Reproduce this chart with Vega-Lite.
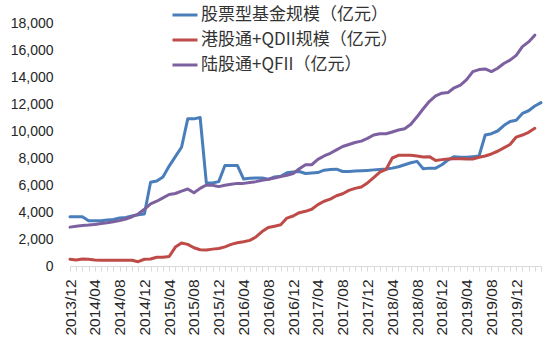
{
"$schema": "https://vega.github.io/schema/vega-lite/v6.json",
"width": 471, "height": 243,
"autosize": {"type": "none"},
"padding": {"left": 70, "top": 23, "right": 9, "bottom": 96},
"background": "white",
"config": {"view": {"stroke": null}},
"data": {"values": [
{"m":"2013/12","股票型基金规模（亿元）":3650,"港股通+QDII规模（亿元）":500,"陆股通+QFII（亿元）":2880},
{"m":"2014/01","股票型基金规模（亿元）":3650,"港股通+QDII规模（亿元）":450,"陆股通+QFII（亿元）":2950},
{"m":"2014/02","股票型基金规模（亿元）":3650,"港股通+QDII规模（亿元）":520,"陆股通+QFII（亿元）":3000},
{"m":"2014/03","股票型基金规模（亿元）":3350,"港股通+QDII规模（亿元）":500,"陆股通+QFII（亿元）":3030},
{"m":"2014/04","股票型基金规模（亿元）":3350,"港股通+QDII规模（亿元）":450,"陆股通+QFII（亿元）":3080},
{"m":"2014/05","股票型基金规模（亿元）":3350,"港股通+QDII规模（亿元）":430,"陆股通+QFII（亿元）":3140},
{"m":"2014/06","股票型基金规模（亿元）":3400,"港股通+QDII规模（亿元）":430,"陆股通+QFII（亿元）":3200},
{"m":"2014/07","股票型基金规模（亿元）":3450,"港股通+QDII规模（亿元）":430,"陆股通+QFII（亿元）":3280},
{"m":"2014/08","股票型基金规模（亿元）":3550,"港股通+QDII规模（亿元）":430,"陆股通+QFII（亿元）":3360},
{"m":"2014/09","股票型基金规模（亿元）":3600,"港股通+QDII规模（亿元）":430,"陆股通+QFII（亿元）":3480},
{"m":"2014/10","股票型基金规模（亿元）":3700,"港股通+QDII规模（亿元）":430,"陆股通+QFII（亿元）":3650},
{"m":"2014/11","股票型基金规模（亿元）":3800,"港股通+QDII规模（亿元）":320,"陆股通+QFII（亿元）":3850},
{"m":"2014/12","股票型基金规模（亿元）":3850,"港股通+QDII规模（亿元）":500,"陆股通+QFII（亿元）":4200},
{"m":"2015/01","股票型基金规模（亿元）":6200,"港股通+QDII规模（亿元）":520,"陆股通+QFII（亿元）":4600},
{"m":"2015/02","股票型基金规模（亿元）":6300,"港股通+QDII规模（亿元）":650,"陆股通+QFII（亿元）":4800},
{"m":"2015/03","股票型基金规模（亿元）":6600,"港股通+QDII规模（亿元）":650,"陆股通+QFII（亿元）":5050},
{"m":"2015/04","股票型基金规模（亿元）":7400,"港股通+QDII规模（亿元）":700,"陆股通+QFII（亿元）":5300},
{"m":"2015/05","股票型基金规模（亿元）":8100,"港股通+QDII规模（亿元）":1400,"陆股通+QFII（亿元）":5370},
{"m":"2015/06","股票型基金规模（亿元）":8800,"港股通+QDII规模（亿元）":1700,"陆股通+QFII（亿元）":5550},
{"m":"2015/07","股票型基金规模（亿元）":10900,"港股通+QDII规模（亿元）":1600,"陆股通+QFII（亿元）":5700},
{"m":"2015/08","股票型基金规模（亿元）":10900,"港股通+QDII规模（亿元）":1350,"陆股通+QFII（亿元）":5420},
{"m":"2015/09","股票型基金规模（亿元）":11000,"港股通+QDII规模（亿元）":1200,"陆股通+QFII（亿元）":5750},
{"m":"2015/10","股票型基金规模（亿元）":6150,"港股通+QDII规模（亿元）":1180,"陆股通+QFII（亿元）":6000},
{"m":"2015/11","股票型基金规模（亿元）":6150,"港股通+QDII规模（亿元）":1250,"陆股通+QFII（亿元）":5980},
{"m":"2015/12","股票型基金规模（亿元）":6250,"港股通+QDII规模（亿元）":1300,"陆股通+QFII（亿元）":5880},
{"m":"2016/01","股票型基金规模（亿元）":7450,"港股通+QDII规模（亿元）":1420,"陆股通+QFII（亿元）":5980},
{"m":"2016/02","股票型基金规模（亿元）":7450,"港股通+QDII规模（亿元）":1600,"陆股通+QFII（亿元）":6050},
{"m":"2016/03","股票型基金规模（亿元）":7450,"港股通+QDII规模（亿元）":1720,"陆股通+QFII（亿元）":6120},
{"m":"2016/04","股票型基金规模（亿元）":6450,"港股通+QDII规模（亿元）":1800,"陆股通+QFII（亿元）":6120},
{"m":"2016/05","股票型基金规模（亿元）":6500,"港股通+QDII规模（亿元）":1900,"陆股通+QFII（亿元）":6180},
{"m":"2016/06","股票型基金规模（亿元）":6520,"港股通+QDII规模（亿元）":2150,"陆股通+QFII（亿元）":6250},
{"m":"2016/07","股票型基金规模（亿元）":6520,"港股通+QDII规模（亿元）":2550,"陆股通+QFII（亿元）":6350},
{"m":"2016/08","股票型基金规模（亿元）":6420,"港股通+QDII规模（亿元）":2850,"陆股通+QFII（亿元）":6420},
{"m":"2016/09","股票型基金规模（亿元）":6600,"港股通+QDII规模（亿元）":2950,"陆股通+QFII（亿元）":6520},
{"m":"2016/10","股票型基金规模（亿元）":6650,"港股通+QDII规模（亿元）":3050,"陆股通+QFII（亿元）":6620},
{"m":"2016/11","股票型基金规模（亿元）":6900,"港股通+QDII规模（亿元）":3550,"陆股通+QFII（亿元）":6720},
{"m":"2016/12","股票型基金规模（亿元）":6970,"港股通+QDII规模（亿元）":3700,"陆股通+QFII（亿元）":6850},
{"m":"2017/01","股票型基金规模（亿元）":7000,"港股通+QDII规模（亿元）":3950,"陆股通+QFII（亿元）":7200},
{"m":"2017/02","股票型基金规模（亿元）":6850,"港股通+QDII规模（亿元）":4050,"陆股通+QFII（亿元）":7500},
{"m":"2017/03","股票型基金规模（亿元）":6880,"港股通+QDII规模（亿元）":4200,"陆股通+QFII（亿元）":7500},
{"m":"2017/04","股票型基金规模（亿元）":6920,"港股通+QDII规模（亿元）":4550,"陆股通+QFII（亿元）":7900},
{"m":"2017/05","股票型基金规模（亿元）":7100,"港股通+QDII规模（亿元）":4800,"陆股通+QFII（亿元）":8150},
{"m":"2017/06","股票型基金规模（亿元）":7150,"港股通+QDII规模（亿元）":4950,"陆股通+QFII（亿元）":8350},
{"m":"2017/07","股票型基金规模（亿元）":7170,"港股通+QDII规模（亿元）":5200,"陆股通+QFII（亿元）":8600},
{"m":"2017/08","股票型基金规模（亿元）":7000,"港股通+QDII规模（亿元）":5350,"陆股通+QFII（亿元）":8850},
{"m":"2017/09","股票型基金规模（亿元）":7000,"港股通+QDII规模（亿元）":5600,"陆股通+QFII（亿元）":9000},
{"m":"2017/10","股票型基金规模（亿元）":7030,"港股通+QDII规模（亿元）":5750,"陆股通+QFII（亿元）":9150},
{"m":"2017/11","股票型基金规模（亿元）":7050,"港股通+QDII规模（亿元）":5850,"陆股通+QFII（亿元）":9250},
{"m":"2017/12","股票型基金规模（亿元）":7080,"港股通+QDII规模（亿元）":6150,"陆股通+QFII（亿元）":9450},
{"m":"2018/01","股票型基金规模（亿元）":7120,"港股通+QDII规模（亿元）":6550,"陆股通+QFII（亿元）":9700},
{"m":"2018/02","股票型基金规模（亿元）":7150,"港股通+QDII规模（亿元）":6950,"陆股通+QFII（亿元）":9800},
{"m":"2018/03","股票型基金规模（亿元）":7180,"港股通+QDII规模（亿元）":7150,"陆股通+QFII（亿元）":9800},
{"m":"2018/04","股票型基金规模（亿元）":7250,"港股通+QDII规模（亿元）":8000,"陆股通+QFII（亿元）":9930},
{"m":"2018/05","股票型基金规模（亿元）":7350,"港股通+QDII规模（亿元）":8200,"陆股通+QFII（亿元）":10070},
{"m":"2018/06","股票型基金规模（亿元）":7500,"港股通+QDII规模（亿元）":8200,"陆股通+QFII（亿元）":10170},
{"m":"2018/07","股票型基金规模（亿元）":7650,"港股通+QDII规模（亿元）":8200,"陆股通+QFII（亿元）":10500},
{"m":"2018/08","股票型基金规模（亿元）":7750,"港股通+QDII规模（亿元）":8150,"陆股通+QFII（亿元）":11050},
{"m":"2018/09","股票型基金规模（亿元）":7200,"港股通+QDII规模（亿元）":8070,"陆股通+QFII（亿元）":11650},
{"m":"2018/10","股票型基金规模（亿元）":7250,"港股通+QDII规模（亿元）":8100,"陆股通+QFII（亿元）":12200},
{"m":"2018/11","股票型基金规模（亿元）":7250,"港股通+QDII规模（亿元）":7820,"陆股通+QFII（亿元）":12600},
{"m":"2018/12","股票型基金规模（亿元）":7500,"港股通+QDII规模（亿元）":7880,"陆股通+QFII（亿元）":12800},
{"m":"2019/01","股票型基金规模（亿元）":7850,"港股通+QDII规模（亿元）":7930,"陆股通+QFII（亿元）":12850},
{"m":"2019/02","股票型基金规模（亿元）":8100,"港股通+QDII规模（亿元）":7950,"陆股通+QFII（亿元）":13200},
{"m":"2019/03","股票型基金规模（亿元）":8050,"港股通+QDII规模（亿元）":7940,"陆股通+QFII（亿元）":13400},
{"m":"2019/04","股票型基金规模（亿元）":8050,"港股通+QDII规模（亿元）":7930,"陆股通+QFII（亿元）":13800},
{"m":"2019/05","股票型基金规模（亿元）":8100,"港股通+QDII规模（亿元）":7930,"陆股通+QFII（亿元）":14400},
{"m":"2019/06","股票型基金规模（亿元）":8150,"港股通+QDII规模（亿元）":8050,"陆股通+QFII（亿元）":14550},
{"m":"2019/07","股票型基金规模（亿元）":9700,"港股通+QDII规模（亿元）":8150,"陆股通+QFII（亿元）":14600},
{"m":"2019/08","股票型基金规模（亿元）":9800,"港股通+QDII规模（亿元）":8300,"陆股通+QFII（亿元）":14400},
{"m":"2019/09","股票型基金规模（亿元）":10000,"港股通+QDII规模（亿元）":8500,"陆股通+QFII（亿元）":14650},
{"m":"2019/10","股票型基金规模（亿元）":10400,"港股通+QDII规模（亿元）":8750,"陆股通+QFII（亿元）":15000},
{"m":"2019/11","股票型基金规模（亿元）":10700,"港股通+QDII规模（亿元）":9000,"陆股通+QFII（亿元）":15250},
{"m":"2019/12","股票型基金规模（亿元）":10800,"港股通+QDII规模（亿元）":9550,"陆股通+QFII（亿元）":15600},
{"m":"2020/01","股票型基金规模（亿元）":11300,"港股通+QDII规模（亿元）":9700,"陆股通+QFII（亿元）":16250},
{"m":"2020/02","股票型基金规模（亿元）":11500,"港股通+QDII规模（亿元）":9900,"陆股通+QFII（亿元）":16600},
{"m":"2020/03","股票型基金规模（亿元）":11850,"港股通+QDII规模（亿元）":10200,"陆股通+QFII（亿元）":17100},
{"m":"2020/04","股票型基金规模（亿元）":12100,"港股通+QDII规模（亿元）":null,"陆股通+QFII（亿元）":null}
]},
"transform": [{"fold": ["股票型基金规模（亿元）", "港股通+QDII规模（亿元）", "陆股通+QFII（亿元）"], "as": ["k", "v"]}],
"mark": {"type": "line", "strokeWidth": 3, "strokeJoin": "round", "strokeCap": "round"},
"encoding": {
  "x": {"field": "m", "type": "ordinal", "sort": null, "scale": {"type": "point", "padding": 0},
        "axis": {"title": null, "labelAngle": -90, "labelPadding": 8, "tickSize": 5, "domainColor": "#d9d9d9", "tickColor": "#d9d9d9",
                 "labelFont": "Liberation Sans", "labelFontSize": 15.5, "labelColor": "#262626", "labelOverlap": false, "grid": false,
                 "labelExpr": "(toNumber(slice(datum.value, 5)) % 4 == 0 && datum.value <= '2019/12') ? datum.value : ''"}},
  "y": {"field": "v", "type": "quantitative", "scale": {"domain": [0, 18000], "nice": false},
        "axis": {"title": null, "values": [0,2000,4000,6000,8000,10000,12000,14000,16000,18000], "format": ",d", "domain": false, "ticks": false, "grid": false,
                 "labelPadding": 17, "labelFont": "Liberation Sans", "labelFontSize": 14, "labelColor": "#262626"}},
  "color": {"field": "k", "type": "nominal",
            "scale": {"domain": ["股票型基金规模（亿元）", "港股通+QDII规模（亿元）", "陆股通+QFII（亿元）"], "range": ["#4a7ebb", "#be4b48", "#7d60a0"]},
            "legend": {"orient": "none", "legendX": 101, "legendY": -22, "title": null, "symbolType": "stroke", "symbolSize": 625, "symbolStrokeWidth": 3,
                       "labelFont": "Noto Sans CJK SC", "labelFontSize": 17, "labelColor": "#333333", "labelOffset": 2, "labelLimit": 0, "rowPadding": 3, "padding": 0}}
}
}
